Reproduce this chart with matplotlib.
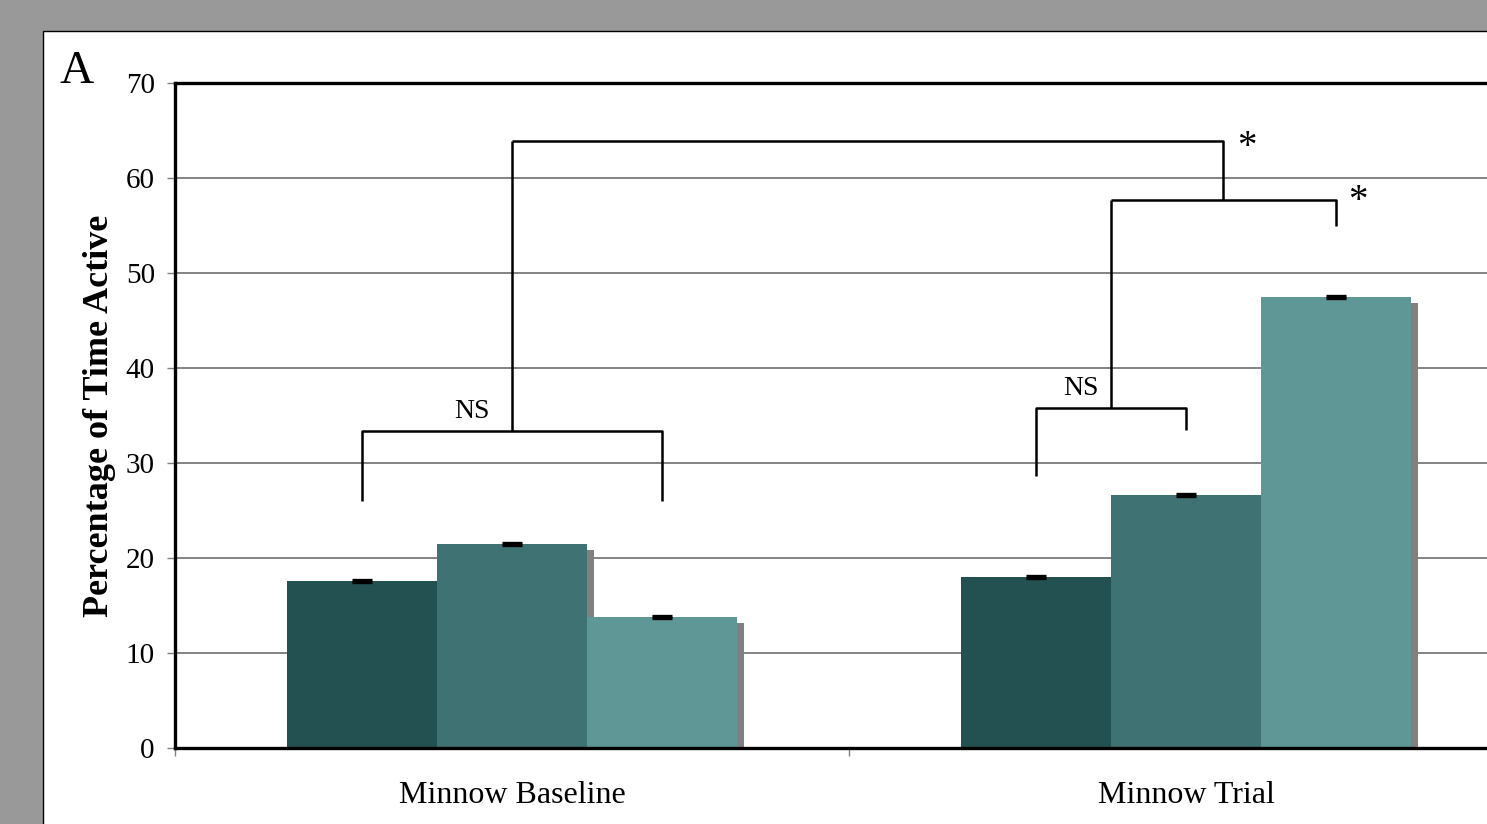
import matplotlib
matplotlib.use("Agg")
import matplotlib.pyplot as plt
import matplotlib.patheffects as pe
from matplotlib.patches import Rectangle
import numpy as np

# Data
categories = ["Minnow Baseline", "Minnow Trial"]
series_values = [
    [17.6, 18.0],   # group 1
    [21.5, 26.6],   # group 2
    [13.8, 47.5],   # group 3
]
series_errors = [
    [0.1, 0.1],
    [0.1, 0.1],
    [0.1, 0.1],
]
series_colors = ["#235050", "#3f7272", "#5e9795"]
y_ticks = [0, 10, 20, 30, 40, 50, 60, 70]

# Significance bracket levels (y values)
base_ns_level, base_ns_drop = 33.4, 26.0
trial_ns_level, trial_ns_left_drop, trial_ns_right_drop = 35.8, 28.6, 33.5
trial_upper_level, trial_upper_drop = 57.7, 55.0
top_level = 63.9

plt.rcParams["font.family"] = ["Liberation Serif", "DejaVu Serif"]

W, H = 1487, 824
dpi = 100
fig = plt.figure(figsize=(W / dpi, H / dpi), dpi=dpi, facecolor="#999999")

# White chart panel with thin border
panel = Rectangle((43 / W, -0.01), 1.1, (H - 31) / H + 0.01,
                  transform=fig.transFigure, facecolor="white",
                  edgecolor="black", linewidth=1.0, zorder=-10)
fig.add_artist(panel)

ax = fig.add_axes([175 / W, (H - 748) / H, 1348 / W, 665 / H])
ax.set_zorder(1)
ax.set_facecolor("none")
ax.set_xlim(0, 2)
ax.set_ylim(0, 70)

n = len(series_values)
bar_w = 0.2225
centers = np.arange(len(categories)) + 0.5
shadow = [pe.SimplePatchShadow(offset=(5.0, -4.3), shadow_rgbFace="#808080", alpha=1.0),
          pe.Normal()]

xpos = []
for i, (vals, errs, col) in enumerate(zip(series_values, series_errors, series_colors)):
    x = centers + (i - (n - 1) / 2) * bar_w
    xpos.append(x)
    ax.bar(x, vals, width=bar_w, color=col, edgecolor="none", zorder=3,
           path_effects=shadow)
    ax.errorbar(x, vals, yerr=errs, fmt="none", ecolor="black",
                elinewidth=1.5, capsize=7.2, capthick=2.4, zorder=4)

# Gridlines
for yv in y_ticks[1:-1]:
    ax.axhline(yv, color="#6e6e6e", linewidth=1.2, zorder=1)

# Spines
for s in ["left", "top", "bottom"]:
    ax.spines[s].set_linewidth(2.4)
    ax.spines[s].set_color("black")
    ax.spines[s].set_zorder(5)
ax.spines["right"].set_visible(False)

ax.set_yticks(y_ticks)
ax.set_yticklabels([str(v) for v in y_ticks])
ax.tick_params(axis="y", length=5.5, width=1.0, color="#808080", pad=9,
               labelsize=21, direction="out")
ax.set_xticks([0, 1, 2])
ax.set_xticklabels(["", "", ""])
ax.set_xticks(centers, minor=True)
ax.set_xticklabels(categories, minor=True, fontsize=23)
ax.tick_params(axis="x", which="major", length=6, width=1.0, color="#808080",
               direction="out")
ax.tick_params(axis="x", which="minor", length=0, pad=24)

ax.set_ylabel("Percentage of Time Active", fontsize=26, fontweight="bold",
              labelpad=7)

# Significance brackets
lw = 1.8
kw = dict(color="black", linewidth=lw, zorder=6, solid_capstyle="butt",
          clip_on=False)

# Baseline: group 1 vs group 3
b1, b3 = xpos[0][0], xpos[2][0]
ax.plot([b1, b1, b3, b3], [base_ns_drop, base_ns_level, base_ns_level, base_ns_drop], **kw)
base_mid = (b1 + b3) / 2
ax.text(base_mid - 0.06, base_ns_level + 0.7, "NS", ha="center", va="bottom", fontsize=20)

# Trial: group 1 vs group 2
t1, t2, t3 = xpos[0][1], xpos[1][1], xpos[2][1]
ax.plot([t1, t1, t2, t2],
        [trial_ns_left_drop, trial_ns_level, trial_ns_level, trial_ns_right_drop], **kw)
trial_mid = (t1 + t2) / 2
ax.text(trial_mid - 0.045, trial_ns_level + 0.7, "NS", ha="center", va="bottom", fontsize=20)

# Trial: (group 1, group 2) vs group 3
ax.plot([trial_mid, trial_mid], [trial_ns_level, trial_upper_level], **kw)
ax.plot([trial_mid, t3, t3], [trial_upper_level, trial_upper_level, trial_upper_drop], **kw)
ax.text(t3 + 0.033, trial_upper_level - 0.2, "*", ha="center", va="center", fontsize=28)

# Baseline vs trial
upper_mid = (trial_mid + t3) / 2
ax.plot([base_mid, base_mid], [base_ns_level, top_level], **kw)
ax.plot([base_mid, upper_mid, upper_mid], [top_level, top_level, trial_upper_level], **kw)
ax.text(upper_mid + 0.035, top_level - 0.7, "*", ha="center", va="center", fontsize=28)

# Panel letter
fig.text(77 / W, 1 - 72 / H, "A", fontsize=34, ha="center", va="center")

fig.savefig("out.png", dpi=dpi, facecolor=fig.get_facecolor())
